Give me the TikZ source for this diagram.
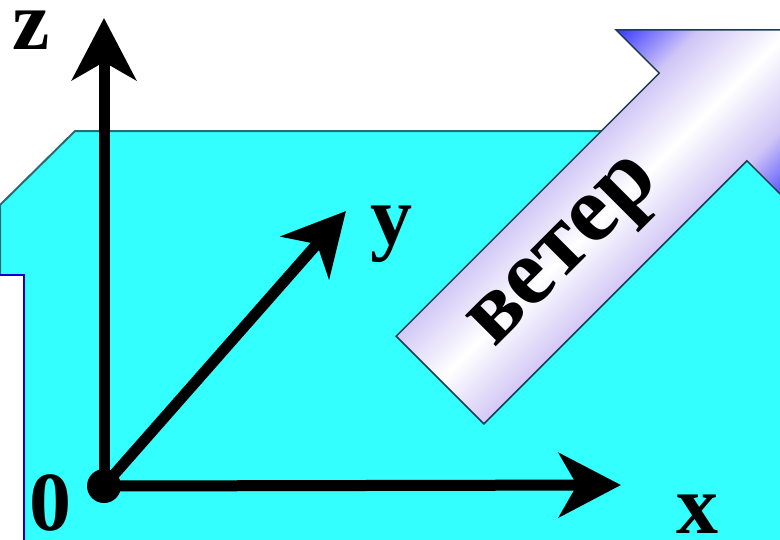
\documentclass[tikz,border=0pt]{standalone}
\usepackage{fontspec}
\setmainfont{Liberation Serif}
\usetikzlibrary{arrows.meta}

\definecolor{sea}{RGB}{51,255,255}
\definecolor{seaedge}{RGB}{45,105,115}
\definecolor{windedge}{RGB}{30,60,80}
\definecolor{windblue}{RGB}{55,55,255}
\definecolor{windlav}{RGB}{208,198,246}
\pgfdeclareverticalshading{windshade}{100bp}{color(0bp)=(windblue); color(25bp)=(windblue); color(37bp)=(windlav); color(50bp)=(white); color(63bp)=(windlav); color(75bp)=(windblue); color(100bp)=(windblue)}

\begin{document}
\begin{tikzpicture}[
    x=1pt, y=-1pt,
    axis/.style={line width=11pt, -{Stealth[length=62pt, width=64pt, inset=18pt]}},
    lbl/.style={inner sep=0pt, font=\fontsize{84}{90}\selectfont\bfseries},
    dot/.style={circle, fill=black, minimum size=34pt, inner sep=0pt}
]
    \useasboundingbox (0,0) rectangle (780,539);
    \clip (0,0) rectangle (780,539);

    % Water surface
    \draw[fill=sea, draw=seaedge, line width=2pt] (0,205) -- (75,131) -- (785,131) -- (785,545) -- (0,545) -- cycle;
    \draw[fill=white, draw=blue!80!black, line width=2pt] (-5,275) rectangle (24,545);

    % Wind arrow
    \begin{scope}[overlay, transform canvas={shift={(440,380)}, rotate=45}]
        \shade[shading=windshade, draw=windedge, line width=1.5pt]
            (0,-62) -- (372,-62) -- (372,-123) -- (495,0) -- (372,123) -- (372,62) -- (0,62) -- cycle;
        \node[lbl, font=\fontsize{95}{100}\selectfont\bfseries] (wind) at (178,4) {ветер};
    \end{scope}

    % Axes
    \node[dot] (O) at (104,486) {};
    \coordinate (zend) at (104,18);
    \coordinate (xend) at (621,485);
    \coordinate (yend) at (346,211);
    \draw[axis] (O.center) -- (zend);
    \draw[axis] (O.center) -- (xend);
    \draw[axis] (O.center) -- (yend);

    % Labels
    \node[lbl] (zlbl) at (31,30) {z};
    \node[lbl] (ylbl) at (391,234) {y};
    \node[lbl] (xlbl) at (697,514) {x};
    \node[lbl] (olbl) at (51,503) {0};
\end{tikzpicture}
\end{document}
